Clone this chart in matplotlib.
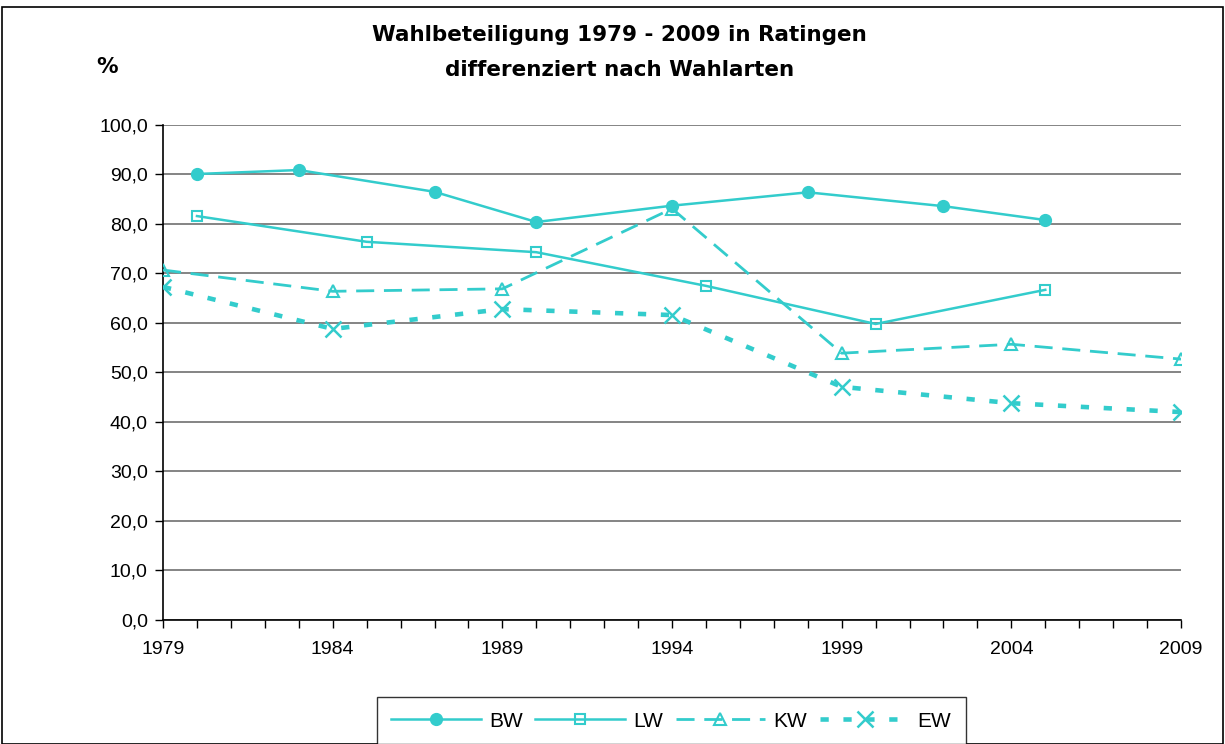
import matplotlib
matplotlib.use("Agg")
import matplotlib.pyplot as plt
from matplotlib.patches import Rectangle
from matplotlib.ticker import MultipleLocator, FuncFormatter

plt.rcParams['font.family'] = ['Liberation Sans', 'DejaVu Sans']

bw_years = [1980, 1983, 1987, 1990, 1994, 1998, 2002, 2005]
bw_vals = [90.1, 90.9, 86.5, 80.4, 83.7, 86.4, 83.6, 80.8]
lw_years = [1980, 1985, 1990, 1995, 2000, 2005]
lw_vals = [81.6, 76.4, 74.3, 67.5, 59.8, 66.7]
kw_years = [1979, 1984, 1989, 1994, 1999, 2004, 2009]
kw_vals = [70.7, 66.4, 66.9, 83.1, 53.9, 55.7, 52.7]
ew_years = [1979, 1984, 1989, 1994, 1999, 2004, 2009]
ew_vals = [67.3, 58.8, 62.8, 61.6, 47.1, 43.8, 42.0]
x_labels = [1979, 1984, 1989, 1994, 1999, 2004, 2009]

color = '#33CCCC'

fig = plt.figure(figsize=(12.25, 7.44), dpi=100)
ax = fig.add_axes([0.1331, 0.1667, 0.8310, 0.6653])

ax.plot(bw_years, bw_vals, color=color, lw=1.8, marker='o', ms=8.5,
        mfc=color, mec=color, label='BW', zorder=4)
ax.plot(lw_years, lw_vals, color=color, lw=1.8, marker='s', ms=7.5,
        mfc='none', mec=color, mew=1.5, label='LW', zorder=4)
ax.plot(kw_years, kw_vals, color=color, lw=2.0, marker='^', ms=9,
        mfc='none', mec=color, mew=1.5, dashes=(6.5, 3.5), label='KW', zorder=4)
ax.plot(ew_years, ew_vals, color=color, lw=3.3, marker='x', ms=12,
        mec=color, mew=1.8, dashes=(1.8, 3.2), label='EW', zorder=4)

ax.set_xlim(1979, 2009)
ax.set_ylim(0, 100)
ax.set_xticks(x_labels)
ax.set_xticklabels([str(y) for y in x_labels])
ax.xaxis.set_minor_locator(MultipleLocator(1))
ax.yaxis.set_major_locator(MultipleLocator(10))
ax.yaxis.set_major_formatter(FuncFormatter(lambda v, p: f"{v:.1f}".replace('.', ',')))
ax.tick_params(axis='both', direction='out', labelsize=14, length=6, width=1, color='black', pad=5)
ax.tick_params(axis='x', which='minor', direction='out', length=6, width=1)
ax.tick_params(axis='x', which='major', pad=9)
ax.grid(axis='y', color='#707070', lw=1.2)
ax.set_axisbelow(True)
for s in ['top', 'right']:
    ax.spines[s].set_visible(False)
for s in ['left', 'bottom']:
    ax.spines[s].set_color('black')
    ax.spines[s].set_linewidth(1.2)

tfont = dict(family=['DejaVu Sans'], fontsize=15.5, fontweight='bold')
fig.text(0.506, 0.953, 'Wahlbeteiligung 1979 - 2009 in Ratingen', ha='center', va='center', **tfont)
fig.text(0.506, 0.906, 'differenziert nach Wahlarten', ha='center', va='center', **tfont)
fig.text(0.087, 0.910, '%', ha='center', va='center', **tfont)

leg = fig.legend(loc='upper center', bbox_to_anchor=(0.548, 0.077), ncol=4, fontsize=15,
                 frameon=True, fancybox=False, edgecolor='black', handlelength=4.3,
                 columnspacing=0.6, handletextpad=0.4, borderpad=0.7)
leg.get_frame().set_linewidth(1.0)

fig.patches.append(Rectangle((0.002, 0.0), 0.996, 0.99, transform=fig.transFigure,
                             fill=False, edgecolor='black', lw=1.2))

fig.savefig('out.png', dpi=100)
